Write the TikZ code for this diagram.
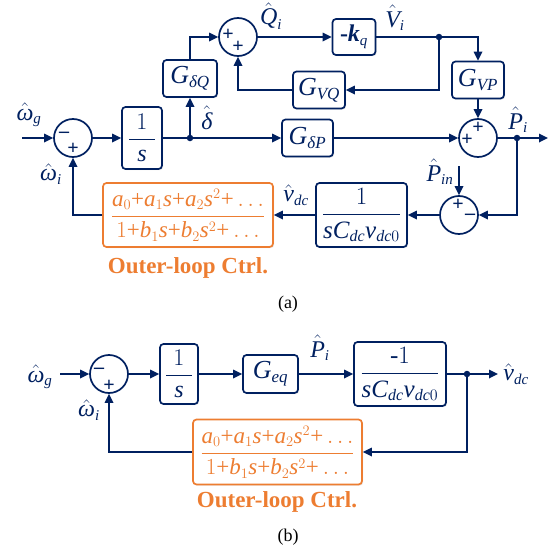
\RequirePackage{fix-cm}
\documentclass[tikz,border=0pt]{standalone}
\usepackage{fontspec}
\setmainfont{Liberation Serif}
\usepackage{amsmath}
\usetikzlibrary{arrows.meta,shadows}
\definecolor{navy}{RGB}{0,32,96}
\definecolor{orng}{RGB}{237,125,49}
\DeclareMathSizes{26}{26}{17}{12}
\DeclareMathSizes{25}{25}{16}{11.5}
\DeclareMathSizes{24}{24}{15}{11}
\DeclareMathSizes{23}{23}{14.5}{10.5}
\newcommand\mfnt{\fontsize{24}{28}\selectfont}
\newcommand\gfnt{\fontsize{26}{30}\selectfont}
\newcommand\ffnt{\fontsize{25}{29}\selectfont}
\newcommand\ofnt{\fontsize{23}{27}\selectfont}
\newcommand\vi[1]{\text{\itshape #1}}
\newcommand\pl{\text{+}}
\begin{document}
\begin{tikzpicture}[x=1pt,y=-1pt,
  line/.style={draw=navy,line width=1.7pt},
  arr/.style={line,-{Triangle[length=9pt,width=8.5pt]}},
  blk/.style={draw=navy,line width=1.7pt,rounded corners=3.5pt,fill=white,text=navy,inner sep=0pt,font=\mfnt,
    drop shadow={opacity=0.18,shadow xshift=1.2pt,shadow yshift=-1.2pt}},
  gblk/.style={blk,font=\gfnt},
  fblk/.style={blk,font=\ffnt},
  oblk/.style={blk,draw=orng,text=orng,font=\ofnt},
  sumc/.style={circle,draw=navy,line width=1.7pt,fill=white,minimum size=38pt,inner sep=0pt},
  sgn/.style={text=navy,font=\bfseries\fontsize{20}{20}\selectfont,inner sep=0pt},
  lbl/.style={text=navy,font=\mfnt,inner sep=0pt},
  jdot/.style={circle,fill=navy,minimum size=6.5pt,inner sep=0pt},
  captxt/.style={text=orng,font=\bfseries\fontsize{23}{26}\selectfont,inner sep=0pt},
  subcap/.style={text=black,font=\fontsize{18}{20}\selectfont,inner sep=0pt}
]
\useasboundingbox (0,0) rectangle (560,554);

%% ---------------- (a) ----------------
\node[sumc] (s1) at (73,138) {};
\node[sgn] (s1m) at (64,135) {–};
\node[sgn] (s1p) at (73,149) {+};
\node[blk,minimum width=40pt,minimum height=62pt] (int) at (142,138) {$\dfrac{\hspace{7pt}1\hspace{7pt}}{\vi{s}}$};
\node[gblk,minimum width=54pt,minimum height=37pt] (GdQ) at (190,78.5) {$\vi{G}_{\vi{δQ}}$};
\node[sumc] (s2) at (238,37) {};
\node[sgn] (s2a) at (228,35) {+};
\node[sgn] (s2b) at (238,47) {+};
\node[blk,minimum width=43pt,minimum height=36pt] (kq) at (354,37) {$\text{\bfseries -\itshape k}_{\vi{q}}$};
\node[gblk,minimum width=52pt,minimum height=37pt] (GVQ) at (319,90) {$\vi{G}_{\vi{VQ}}$};
\node[gblk,minimum width=52pt,minimum height=37pt] (GVP) at (478,80) {$\vi{G}_{\vi{VP}}$};
\node[gblk,minimum width=51pt,minimum height=37pt] (GdP) at (307.5,138) {$\vi{G}_{\vi{δP}}$};
\node[sumc] (s3) at (478,138) {};
\node[sgn] (s3a) at (467,140) {+};
\node[sgn] (s3b) at (478,128) {+};
\node[sumc] (s4) at (459,215) {};
\node[sgn] (s4a) at (458,205) {+};
\node[sgn] (s4b) at (470,217) {–};
\node[fblk,minimum width=91pt,minimum height=64pt] (vdc) at (361.5,215) {$\dfrac{1}{\vi{sC}_{\vi{dc}}\vi{v}_{\vi{dc}0}}$};
\node[oblk,minimum width=170pt,minimum height=64pt] (oc) at (188,215)
  {$\dfrac{\vi{a}_0\pl\vi{a}_1\vi{s}\pl\vi{a}_2\vi{s}^2\pl\ldots}{1\pl\vi{b}_1\vi{s}\pl\vi{b}_2\vi{s}^2\pl\ldots}$};

\coordinate (win) at (22,138);
\coordinate (pout) at (548,138);
\coordinate (pin) at (459,166);
\node[jdot] (d1) at (190,138) {};
\node[jdot] (d2) at (439,37) {};
\node[jdot] (d3) at (517,138) {};

\draw[arr] (win) -- (s1.west);
\draw[arr] (s1.east) -- (int.west);
\draw[arr] (int.east) -- (GdP.west);
\draw[arr] (d1) -- (GdQ.south);
\draw[arr] (GdQ.north) |- (s2.west);
\draw[arr] (s2.east) -- (kq.west);
\draw[arr] (kq.east) -| (GVP.north);
\draw[arr] (d2) |- (GVQ.east);
\draw[arr] (GVQ.west) -| (s2.south);
\draw[arr] (GVP.south) -- (s3.north);
\draw[arr] (GdP.east) -- (s3.west);
\draw[arr] (s3.east) -- (pout);
\draw[arr] (d3) |- (s4.east);
\draw[arr] (pin) -- (s4.north);
\draw[arr] (s4.west) -- (vdc.east);
\draw[arr] (vdc.west) -- (oc.east);
\draw[arr] (oc.west) -| (s1.south);

\node[lbl] (la1) at (29,115) {$\hat{\vi{ω}}_{\vi{g}}$};
\node[lbl] (la2) at (51,174) {$\hat{\vi{ω}}_{\vi{i}}$};
\node[lbl] (la3) at (207,118) {$\hat{\vi{δ}}$};
\node[lbl] (la4) at (271,16) {$\hat{\vi{Q}}_{\vi{i}}$};
\node[lbl] (la5) at (395,18) {$\hat{\vi{V}}_{\vi{i}}$};
\node[lbl] (la6) at (518,120) {$\hat{\vi{P}}_{\vi{i}}$};
\node[lbl] (la7) at (440,172) {$\hat{\vi{P}}_{\vi{in}}$};
\node[lbl] (la8) at (296,195) {$\hat{\vi{v}}_{\vi{dc}}$};
\node[captxt] (ca) at (188,268) {Outer-loop Ctrl.};
\node[subcap] (cpa) at (288,304) {(a)};

%% ---------------- (b) ----------------
\node[sumc] (bs1) at (109,374) {};
\node[sgn] (bs1m) at (99,371) {–};
\node[sgn] (bs1p) at (109,386) {+};
\node[blk,minimum width=38pt,minimum height=60pt] (bint) at (179,374) {$\dfrac{\hspace{7pt}1\hspace{7pt}}{\vi{s}}$};
\node[gblk,minimum width=55pt,minimum height=38pt] (Geq) at (270.5,374) {$\vi{G}_{\vi{eq}}$};
\node[fblk,minimum width=92pt,minimum height=64pt] (bvdc) at (400,374) {$\dfrac{\text{-}1}{\vi{sC}_{\vi{dc}}\vi{v}_{\vi{dc}0}}$};
\node[oblk,minimum width=169pt,minimum height=65pt] (boc) at (277.5,452)
  {$\dfrac{\vi{a}_0\pl\vi{a}_1\vi{s}\pl\vi{a}_2\vi{s}^2\pl\ldots}{1\pl\vi{b}_1\vi{s}\pl\vi{b}_2\vi{s}^2\pl\ldots}$};
\coordinate (bin) at (60,374);
\coordinate (bout) at (498,374);
\node[jdot] (d4) at (467,374) {};

\draw[arr] (bin) -- (bs1.west);
\draw[arr] (bs1.east) -- (bint.west);
\draw[arr] (bint.east) -- (Geq.west);
\draw[arr] (Geq.east) -- (bvdc.west);
\draw[arr] (bvdc.east) -- (bout);
\draw[arr] (d4) |- (boc.east);
\draw[arr] (boc.west) -| (bs1.south);

\node[lbl] (lb1) at (40,377) {$\hat{\vi{ω}}_{\vi{g}}$};
\node[lbl] (lb2) at (89,410) {$\hat{\vi{ω}}_{\vi{i}}$};
\node[lbl] (lb3) at (320,348) {$\hat{\vi{P}}_{\vi{i}}$};
\node[lbl] (lb4) at (516,374) {$\hat{\vi{v}}_{\vi{dc}}$};
\node[captxt] (cb) at (277,502) {Outer-loop Ctrl.};
\node[subcap] (cpb) at (288,537) {(b)};
\end{tikzpicture}
\end{document}
